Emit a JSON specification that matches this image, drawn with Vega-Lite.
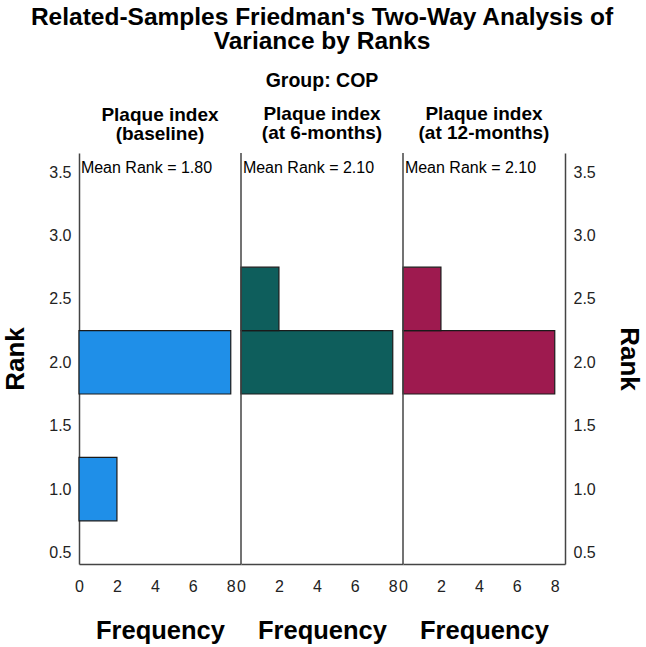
{
  "$schema": "https://vega.github.io/schema/vega-lite/v6.json",
  "background": "white",
  "padding": {"left": 2, "top": 4, "right": 2, "bottom": 4},
  "bounds": "flush",
  "title": {
    "text": ["Related-Samples Friedman's Two-Way Analysis of", "Variance by Ranks"],
    "subtitle": "Group: COP",
    "font": "Liberation Sans",
    "fontSize": 24.5,
    "fontWeight": "bold",
    "color": "black",
    "lineHeight": 24.5,
    "subtitleFont": "Liberation Sans",
    "subtitleFontSize": 19.5,
    "subtitleFontWeight": "bold",
    "subtitleColor": "black",
    "subtitlePadding": 17,
    "anchor": "middle",
    "offset": 14
  },
  "datasets": {
    "bars": [
      {"panel": "baseline", "rank": 1.0, "lo": 0.75, "hi": 1.25, "freq": 2},
      {"panel": "baseline", "rank": 2.0, "lo": 1.75, "hi": 2.25, "freq": 8},
      {"panel": "6m", "rank": 2.0, "lo": 1.75, "hi": 2.25, "freq": 8},
      {"panel": "6m", "rank": 2.5, "lo": 2.25, "hi": 2.75, "freq": 2},
      {"panel": "12m", "rank": 2.0, "lo": 1.75, "hi": 2.25, "freq": 8},
      {"panel": "12m", "rank": 2.5, "lo": 2.25, "hi": 2.75, "freq": 2}
    ],
    "notes": [
      {"panel": "baseline", "label": "Mean Rank = 1.80", "x": 0.1, "y": 3.53},
      {"panel": "6m", "label": "Mean Rank = 2.10", "x": 0.1, "y": 3.53},
      {"panel": "12m", "label": "Mean Rank = 2.10", "x": 0.1, "y": 3.53}
    ],
    "edge": [{"x": 0}]
  },
  "spacing": 0,
  "hconcat": [
    {
      "width": 162,
      "height": 411,
      "title": {"text": ["Plaque index", "(baseline)"]},
      "layer": [
        {
          "data": {"name": "bars"},
          "transform": [{"filter": "datum.panel === 'baseline'"}],
          "mark": {"type": "bar", "color": "#1F8FE8", "stroke": "#1a1a1a", "strokeWidth": 1.2},
          "encoding": {
            "x": {"field": "freq", "type": "quantitative", "scale": {"domain": [0, 8.54], "nice": false}, "axis": {"title": "Frequency", "values": [0, 2, 4, 6, 8]}},
            "x2": {"datum": 0},
            "y": {"field": "lo", "type": "quantitative", "scale": {"domain": [0.41, 3.65], "nice": false, "zero": false}, "axis": {"title": "Rank", "orient": "left", "values": [0.5, 1.0, 1.5, 2.0, 2.5, 3.0, 3.5], "format": ".1f"}},
            "y2": {"field": "hi"}
          }
        },
        {
          "data": {"name": "notes"},
          "transform": [{"filter": "datum.panel === 'baseline'"}],
          "mark": {"type": "text", "align": "left", "baseline": "middle", "font": "Liberation Sans", "fontSize": 16, "color": "black"},
          "encoding": {
            "x": {"field": "x", "type": "quantitative"},
            "y": {"field": "y", "type": "quantitative"},
            "text": {"field": "label"}
          }
        }
      ]
    },
    {
      "width": 162,
      "height": 411,
      "title": {"text": ["Plaque index", "(at 6-months)"]},
      "layer": [
        {
          "data": {"name": "bars"},
          "transform": [{"filter": "datum.panel === '6m'"}],
          "mark": {"type": "bar", "color": "#0E5E5C", "stroke": "#1a1a1a", "strokeWidth": 1.2},
          "encoding": {
            "x": {"field": "freq", "type": "quantitative", "scale": {"domain": [0, 8.54], "nice": false}, "axis": {"title": "Frequency", "values": [0, 2, 4, 6, 8]}},
            "x2": {"datum": 0},
            "y": {"field": "lo", "type": "quantitative", "scale": {"domain": [0.41, 3.65], "nice": false, "zero": false}, "axis": null},
            "y2": {"field": "hi"}
          }
        },
        {
          "data": {"name": "notes"},
          "transform": [{"filter": "datum.panel === '6m'"}],
          "mark": {"type": "text", "align": "left", "baseline": "middle", "font": "Liberation Sans", "fontSize": 16, "color": "black"},
          "encoding": {
            "x": {"field": "x", "type": "quantitative"},
            "y": {"field": "y", "type": "quantitative"},
            "text": {"field": "label"}
          }
        },
        {
          "data": {"name": "edge"},
          "mark": {"type": "rule", "color": "#444444", "strokeWidth": 1.5},
          "encoding": {"x": {"field": "x", "type": "quantitative"}}
        }
      ]
    },
    {
      "width": 162,
      "height": 411,
      "title": {"text": ["Plaque index", "(at 12-months)"]},
      "layer": [
        {
          "data": {"name": "bars"},
          "transform": [{"filter": "datum.panel === '12m'"}],
          "mark": {"type": "bar", "color": "#9E1A4F", "stroke": "#1a1a1a", "strokeWidth": 1.2},
          "encoding": {
            "x": {"field": "freq", "type": "quantitative", "scale": {"domain": [0, 8.54], "nice": false}, "axis": {"title": "Frequency", "values": [0, 2, 4, 6, 8]}},
            "x2": {"datum": 0},
            "y": {"field": "lo", "type": "quantitative", "scale": {"domain": [0.41, 3.65], "nice": false, "zero": false}, "axis": {"title": "Rank", "orient": "right", "values": [0.5, 1.0, 1.5, 2.0, 2.5, 3.0, 3.5], "format": ".1f"}},
            "y2": {"field": "hi"}
          }
        },
        {
          "data": {"name": "notes"},
          "transform": [{"filter": "datum.panel === '12m'"}],
          "mark": {"type": "text", "align": "left", "baseline": "middle", "font": "Liberation Sans", "fontSize": 16, "color": "black"},
          "encoding": {
            "x": {"field": "x", "type": "quantitative"},
            "y": {"field": "y", "type": "quantitative"},
            "text": {"field": "label"}
          }
        },
        {
          "data": {"name": "edge"},
          "mark": {"type": "rule", "color": "#444444", "strokeWidth": 1.5},
          "encoding": {"x": {"field": "x", "type": "quantitative"}}
        }
      ]
    }
  ],
  "config": {
    "view": {"stroke": null},
    "title": {"font": "Liberation Sans", "fontSize": 19, "fontWeight": "bold", "color": "black", "lineHeight": 19, "offset": 9, "anchor": "middle"},
    "axis": {
      "grid": false,
      "ticks": false,
      "domainColor": "#444444",
      "domainWidth": 1.5,
      "labelFont": "Liberation Sans",
      "labelFontSize": 16,
      "labelColor": "#222222",
      "labelBound": false,
      "labelFlush": false,
      "labelOverlap": false,
      "titleFont": "Liberation Sans",
      "titleFontWeight": "bold",
      "titleColor": "black"
    },
    "axisX": {"labelPadding": 14, "titleFontSize": 25.5, "titlePadding": 24},
    "axisY": {"labelPadding": 8, "titleFontSize": 26, "titlePadding": 20}
  }
}
